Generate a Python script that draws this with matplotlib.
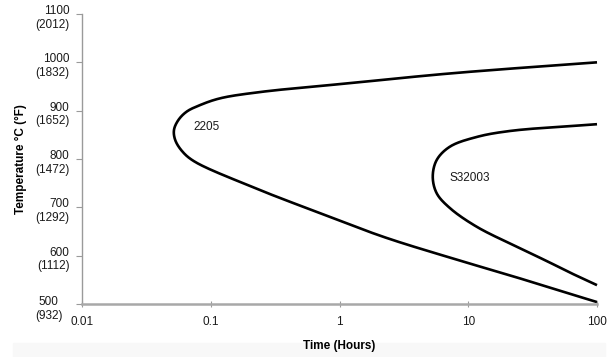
import numpy as np
import matplotlib
matplotlib.use("Agg")
import matplotlib.pyplot as plt
from matplotlib.transforms import ScaledTranslation
from matplotlib.patches import Rectangle

plt.rcParams['font.family'] = ['Liberation Sans', 'DejaVu Sans']

# 2205 curve, traced from top-right end round the nose to bottom-right end
t_2205 = [100, 61.7, 7.2, 1.21, 0.241, 0.118, 0.0825, 0.065, 0.056, 0.0518,
          0.0530, 0.0600, 0.0740, 0.202, 0.665, 2.19, 7.2, 23.8, 61.7, 100]
T_2205 = [1000, 996, 977, 957, 938.5, 925.5, 911.5, 898, 880.5, 860,
          839, 816, 795.5, 744, 690.5, 639, 596, 555, 521, 504]

# S32003 curve
t_s32003 = [100, 21.1, 11.6, 7.2, 5.69, 5.30, 5.69, 7.2, 11.6, 23.8, 40.6, 61.7, 100]
T_s32003 = [872, 858, 845.5, 825.5, 798, 763.5, 729, 698.5, 660, 618.5, 589, 565, 539]

x_ticks = [0.01, 0.1, 1, 10, 100]
x_labels = ['0.01', '0.1', '1', '10', '100']
y_ticks = [500, 600, 700, 800, 900, 1000, 1100]
y_labels = ['500\n(932)', '600\n(1112)', '700\n(1292)', '800\n(1472)',
            '900\n(1652)', '1000\n(1832)', '1100\n(2012)']


def smooth(t, T, per=30):
    # centripetal Catmull-Rom through the traced points, done in a
    # roughly isotropic space (log time vs temperature) so noses stay round
    pts = np.column_stack([np.log10(t) * 128.75, np.asarray(T, float) * 0.4833])
    P = np.vstack([2 * pts[0] - pts[1], pts, 2 * pts[-1] - pts[-2]])
    out = []
    for i in range(1, len(P) - 2):
        p0, p1, p2, p3 = P[i - 1], P[i], P[i + 1], P[i + 2]
        t0 = 0.0
        t1 = t0 + np.linalg.norm(p1 - p0) ** 0.5
        t2 = t1 + np.linalg.norm(p2 - p1) ** 0.5
        t3 = t2 + np.linalg.norm(p3 - p2) ** 0.5
        for u in np.linspace(t1, t2, per, endpoint=False):
            a1 = (t1 - u) / (t1 - t0) * p0 + (u - t0) / (t1 - t0) * p1
            a2 = (t2 - u) / (t2 - t1) * p1 + (u - t1) / (t2 - t1) * p2
            a3 = (t3 - u) / (t3 - t2) * p2 + (u - t2) / (t3 - t2) * p3
            b1 = (t2 - u) / (t2 - t0) * a1 + (u - t0) / (t2 - t0) * a2
            b2 = (t3 - u) / (t3 - t1) * a2 + (u - t1) / (t3 - t1) * a3
            out.append((t2 - u) / (t2 - t1) * b1 + (u - t1) / (t2 - t1) * b2)
    out.append(pts[-1])
    out = np.array(out)
    return 10 ** (out[:, 0] / 128.75), out[:, 1] / 0.4833


fig = plt.figure(figsize=(6.13, 3.57), dpi=100)
fig.patches.append(Rectangle((13 / 613, 0), 592 / 613, 14 / 357,
                             transform=fig.transFigure, color='#f8f8f8',
                             zorder=-1))
ax = fig.add_axes([82 / 613, 1 - 304 / 357, 515 / 613, 290 / 357])
ax.set_facecolor('none')

x1, y1 = smooth(t_2205, T_2205)
x2, y2 = smooth(t_s32003, T_s32003)
ax.plot(x1, y1, color='black', lw=1.9, solid_capstyle='butt', clip_on=False)
ax.plot(x2, y2, color='black', lw=1.9, solid_capstyle='butt', clip_on=False)

ax.text(0.0935, 866, '2205', fontsize=8.5, ha='center', va='center', color='#1a1a1a')
ax.text(10.3, 761, 'S32003', fontsize=8.5, ha='center', va='center', color='#1a1a1a')

ax.set_xscale('log')
ax.set_xlim(0.01, 100)
ax.set_ylim(500, 1100)
ax.set_xticks(x_ticks, x_labels)
ax.set_yticks(y_ticks, y_labels)
ax.minorticks_off()

for side in ['top', 'right']:
    ax.spines[side].set_visible(False)
ax.spines['left'].set_color('#9a9a9a')
ax.spines['left'].set_linewidth(1.0)
ax.spines['bottom'].set_color('#a8a8a8')
ax.spines['bottom'].set_linewidth(1.8)

ax.tick_params(axis='x', direction='inout', length=5, width=0.8, color='#9a9a9a',
               labelsize=8.5, labelcolor='#1a1a1a', pad=6)
ax.tick_params(axis='y', direction='out', length=4, width=0.8, color='#9a9a9a',
               labelsize=8.5, labelcolor='#1a1a1a', pad=5)

for i, lbl in enumerate(ax.get_yticklabels()):
    lbl.set_verticalalignment('top')
    lbl.set_multialignment('right')
    lbl.set_transform(lbl.get_transform()
                      + ScaledTranslation(0, 6.5 / 72, fig.dpi_scale_trans))
    if i == 0:
        # bottom label sits a little lower and further left in the original
        lbl.set_multialignment('center')
        lbl.set_transform(lbl.get_transform()
                          + ScaledTranslation(-5 / 72, -1 / 72, fig.dpi_scale_trans))

ax.set_xlabel('Time (Hours)', fontsize=8.5, fontweight='bold', labelpad=9)
ax.set_ylabel('Temperature \u00b0C (\u00b0F)', fontsize=8.5, fontweight='bold',
              labelpad=6)

fig.savefig('out.png', dpi=100)
